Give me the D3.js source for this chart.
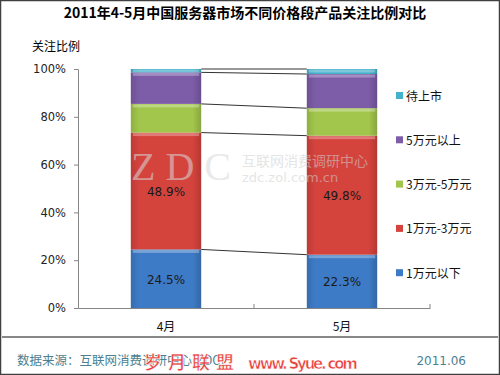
<!DOCTYPE html>
<html>
<head>
<meta charset="utf-8">
<script src="https://cdnjs.cloudflare.com/ajax/libs/d3/7.8.5/d3.min.js"></script>
<style>
  body { margin: 0; background: #fff; }
  text { font-family: "Noto Sans CJK SC", "DejaVu Sans", sans-serif; }
</style>
</head>
<body>
<script>
// data
var months = ["4月", "5月"];
var series = ["1万元以下", "1万元-3万元", "3万元-5万元", "5万元以上", "待上市"];
var colors = ["#3e7bc6", "#d5433d", "#a2c64c", "#7d5ca8", "#45b2cc"];
var values = [
  [24.5, 22.3],   // 1万元以下
  [48.9, 49.8],   // 1万元-3万元
  [12.0, 11.5],   // 3万元-5万元
  [13.2, 14.3],   // 5万元以上
  [1.4, 2.1]      // 待上市
];
var yTicks = [0, 20, 40, 60, 80, 100];

var W = 500, H = 375;
var svg = d3.select("body").append("svg")
    .attr("width", W)
    .attr("height", H);

// gradients for a bit of bevel look
var defs = svg.append("defs");
colors.forEach(function(c, i) {
  var g = defs.append("linearGradient").attr("id", "g" + i)
      .attr("x1", 0).attr("x2", 1).attr("y1", 0).attr("y2", 0);
  g.append("stop").attr("offset", "0%").attr("stop-color", d3.color(c).darker(0.35));
  g.append("stop").attr("offset", "12%").attr("stop-color", c);
  g.append("stop").attr("offset", "88%").attr("stop-color", c);
  g.append("stop").attr("offset", "100%").attr("stop-color", d3.color(c).darker(0.5));
});

// frame
svg.append("rect")
    .attr("x", 0.5).attr("y", 0.5)
    .attr("width", W - 1).attr("height", H - 1)
    .attr("fill", "none").attr("stroke", "#404040").attr("stroke-width", 1.5);

svg.append("text")
    .attr("x", 245).attr("y", 18)
    .attr("text-anchor", "middle")
    .attr("font-size", 14).attr("font-weight", "bold")
    .text("2011年4-5月中国服务器市场不同价格段产品关注比例对比");

svg.append("text")
    .attr("x", 32).attr("y", 51)
    .attr("font-size", 12)
    .text("关注比例");

// scales
var x = d3.scaleBand().domain(months).range([78, 430])
    .paddingInner(0.6).paddingOuter(0.3);
var y = d3.scaleLinear().domain([0, 100]).range([308, 69]);

// stacks
var table = months.map(function(m, j) {
  var row = { month: m };
  series.forEach(function(s, i) { row[s] = values[i][j]; });
  return row;
});
var stacked = d3.stack().keys(series)(table);

// y axis
var yAxis = svg.append("g")
    .attr("transform", "translate(78,0)")
    .call(d3.axisLeft(y).tickValues(yTicks).tickSize(4).tickPadding(8)
      .tickFormat(function(d) { return d + "%"; }));
yAxis.select(".domain").attr("stroke", "#868686");
yAxis.selectAll(".tick line").attr("stroke", "#868686");
yAxis.selectAll("text").attr("fill", "#222")
    .style("font-family", "'DejaVu Sans', sans-serif").attr("font-size", 11.5);

// connector lines between bars
var bx0 = x(months[0]) + x.bandwidth(), bx1 = x(months[1]);
var tops = stacked.map(function(l) { return [l[0][1], l[1][1]]; });
svg.selectAll(".conn").data(tops).enter().append("line")
    .attr("x1", bx0).attr("x2", bx1)
    .attr("y1", function(d) { return y(d[0]); })
    .attr("y2", function(d) { return y(d[1]); })
    .attr("stroke", "#333").attr("stroke-width", 1);

// bars
svg.selectAll(".layer").data(stacked).enter().append("g")
    .attr("fill", function(d, i) { return "url(#g" + i + ")"; })
  .selectAll("rect").data(function(d) { return d; }).enter().append("rect")
    .attr("x", function(d) { return x(d.data.month); })
    .attr("width", x.bandwidth())
    .attr("y", function(d) { return y(d[1]); })
    .attr("height", function(d) { return y(d[0]) - y(d[1]); });

// top highlight strip on each segment
svg.selectAll(".hl").data(stacked).enter().append("g")
  .selectAll("rect").data(function(d) { return d; }).enter().append("rect")
    .attr("x", function(d) { return x(d.data.month) + 2; })
    .attr("width", x.bandwidth() - 4)
    .attr("y", function(d) { return y(d[1]) + 0.5; })
    .attr("height", function(d) { return Math.min(3, y(d[0]) - y(d[1]) - 1); })
    .attr("fill", "#fff").attr("opacity", 0.3);

// watermark
var wm = svg.append("g").attr("opacity", 0.55);
wm.append("text").attr("x", 131).attr("y", 180)
    .attr("font-size", 40).attr("fill", "#d8d8d8")
    .style("font-family", "'Liberation Serif', serif")
    .attr("textLength", 100)
    .text("ZDC");
wm.append("text").attr("x", 242).attr("y", 166)
    .attr("font-size", 14).attr("fill", "#d0d0d0")
    .text("互联网消费调研中心");
wm.append("text").attr("x", 242).attr("y", 182)
    .attr("font-size", 13).attr("fill", "#d0d0d0")
    .style("font-family", "'DejaVu Sans', sans-serif")
    .text("zdc.zol.com.cn");

// labels on the two biggest segments
var labelled = stacked.slice(0, 2);
labelled.forEach(function(layer) {
  svg.selectAll(null).data(layer).enter().append("text")
      .attr("x", function(d) { return x(d.data.month) + x.bandwidth() / 2; })
      .attr("y", function(d) { return y((d[0] + d[1]) / 2) + 5; })
      .attr("text-anchor", "middle")
      .attr("font-size", 12).attr("fill", "#1a1a1a")
      .style("font-family", "'DejaVu Sans', sans-serif")
      .text(function(d) { return (d[1] - d[0]).toFixed(1) + "%"; });
});

// x axis
var xAxis = svg.append("g")
    .attr("transform", "translate(0,308)")
    .call(d3.axisBottom(x).tickSize(0).tickPadding(14));
xAxis.select(".domain").attr("stroke", "#868686");
xAxis.selectAll("text").attr("font-size", 12).attr("fill", "#111");
var step = x.step();
svg.selectAll(".xt").data([78 + step, 78 + 2 * step]).enter().append("line")
    .attr("x1", function(d) { return d; }).attr("x2", function(d) { return d; })
    .attr("y1", 304).attr("y2", 308)
    .attr("stroke", "#868686");

// legend
var legend = svg.selectAll(".leg").data(series.slice().reverse()).enter().append("g")
    .attr("transform", function(d, i) { return "translate(396," + (96 + i * 44.3) + ")"; });
legend.append("rect")
    .attr("x", 0).attr("y", -4).attr("width", 7).attr("height", 7)
    .attr("fill", function(d) { return colors[series.indexOf(d)]; });
legend.append("text")
    .attr("x", 10).attr("y", 4.5)
    .attr("font-size", 12).attr("fill", "#111")
    .text(function(d) { return d; });

// footer
svg.append("line")
    .attr("x1", 2).attr("x2", W - 2).attr("y1", 337).attr("y2", 337)
    .attr("stroke", "#111").attr("stroke-width", 1);
svg.append("text")
    .attr("x", 17).attr("y", 365)
    .attr("font-size", 12.5).attr("fill", "#4b7f91")
    .text("数据来源：互联网消费调研中心(ZDC)");
svg.append("text")
    .attr("x", 466).attr("y", 365)
    .attr("text-anchor", "end")
    .attr("font-size", 12).attr("fill", "#4b7f91")
    .style("font-family", "'DejaVu Sans', sans-serif")
    .text("2011.06");

// site watermark
var sy = svg.append("g").attr("fill", "#e8403c").attr("stroke", "#fff").attr("stroke-width", 0.6)
    .attr("font-weight", "bold");
sy.append("text").attr("x", 144).attr("y", 369)
    .attr("font-size", 18).attr("letter-spacing", 6)
    .text("岁月联盟");
sy.append("text").attr("x", 248).attr("y", 369)
    .attr("font-size", 15)
    .style("font-family", "'DejaVu Sans', sans-serif")
    .attr("textLength", 110)
    .text("www. Syue. com");
</script>
</body>
</html>
